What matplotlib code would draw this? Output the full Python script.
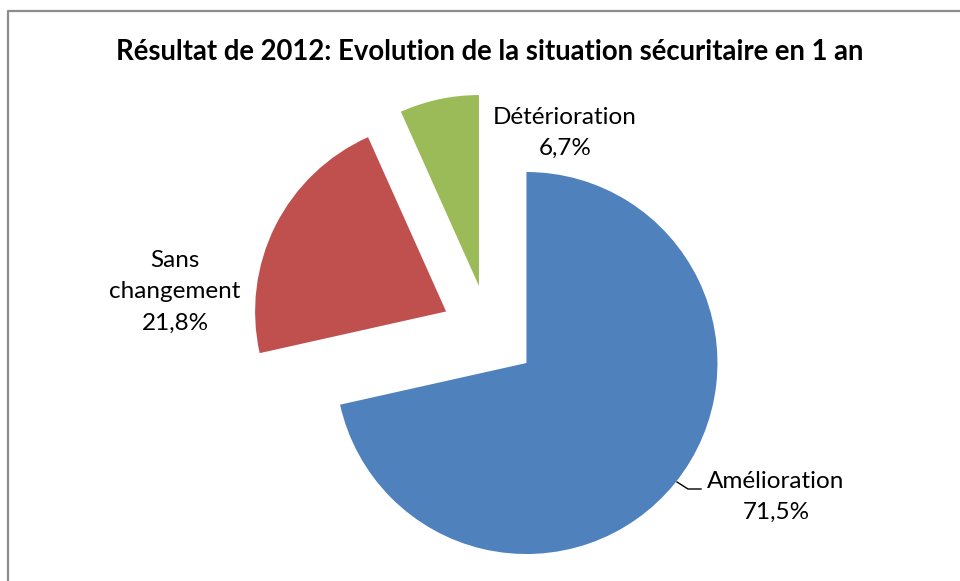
import matplotlib
matplotlib.use("Agg")
import matplotlib.pyplot as plt
import numpy as np

categories = ["Amélioration", "Sans\nchangement", "Détérioration"]
values = [71.5, 21.8, 6.7]
value_labels = ["71,5%", "21,8%", "6,7%"]
colors = ["#4F81BD", "#C0504D", "#9BBB59"]
title = "Résultat de 2012: Evolution de la situation sécuritaire en 1 an"

W, H = 960, 581
fig = plt.figure(figsize=(W / 100, H / 100), dpi=100)
ax = fig.add_axes([0, 0, 1, 1])


def Y(py):
    return H - py


cx, cy, r = 489, 333, 191
expl = 48
ax.pie(values, colors=colors, startangle=90, counterclock=False,
       center=(cx, Y(cy)), radius=r, explode=[expl] * 3, frame=True,
       wedgeprops=dict(linewidth=0))
ax.set_xlim(0, W)
ax.set_ylim(0, H)
ax.set_aspect("auto")
ax.axis("off")

# chart frame
ax.plot([8, 8, 975], [Y(600), Y(10.5), Y(10.5)], color="#8C8C8C", lw=1.6,
        solid_capstyle="butt", clip_on=False)

font = "Lato"
ax.text(490, Y(52), title, ha="center", va="center", fontsize=19.8,
        fontweight="bold", family=font)

label_pos = [(776, 497), (175, 292), (565, 133)]
for cat, vl, (lx, ly) in zip(categories, value_labels, label_pos):
    ax.text(lx, Y(ly), cat + "\n" + vl, ha="center", va="center", fontsize=17.5,
            family=font, linespacing=1.62)

# leader line for Amélioration
ax.plot([677, 688, 701], [Y(482), Y(489), Y(489)], color="black", lw=1)

fig.savefig("out.png", dpi=100)
